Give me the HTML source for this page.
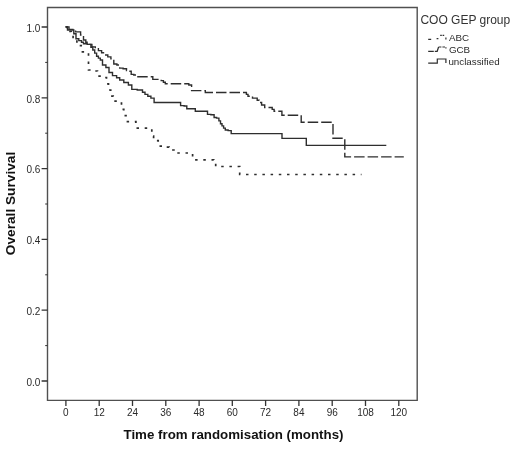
<!DOCTYPE html>
<html>
<head>
<meta charset="utf-8">
<title>Overall Survival by COO GEP group</title>
<style>
html,body{margin:0;padding:0;background:#fff;}
body{width:520px;height:451px;overflow:hidden;}
svg{display:block;filter:blur(0.45px);}
text{font-family:"Liberation Sans",Arial,sans-serif;fill:#2a2a2a;}
.tk{font-size:10px;fill:#3c3c3c;}
.ttl{font-weight:bold;fill:#111;}
.lg{font-size:9.8px;fill:#2a2a2a;}
.lgt{font-size:12px;fill:#333;}
.ln{fill:none;stroke:#2e2e2e;stroke-width:1.4;}
</style>
</head>
<body>
<svg width="520" height="451" viewBox="0 0 520 451">
<rect x="-5" y="-5" width="530" height="461" fill="#fff"/>
<!-- frame -->
<path d="M47.5 7.5 H417.2 V400.4 H47.5 Z" fill="none" stroke="#505050" stroke-width="1.4"/>
<!-- ticks -->
<g stroke="#333" stroke-width="1.3" fill="none">
<path d="M41.6 27.0H47.5M41.6 97.8H47.5M41.6 168.6H47.5M41.6 239.4H47.5M41.6 310.2H47.5M41.6 381.0H47.5"/>
<path d="M45.2 62.4H47.5M45.2 133.2H47.5M45.2 204.0H47.5M45.2 274.8H47.5M45.2 345.6H47.5" stroke-width="1"/>
<path d="M65.9 400V406M99.2 400V406M132.5 400V406M165.8 400V406M199.1 400V406M232.3 400V406M265.6 400V406M298.9 400V406M332.2 400V406M365.5 400V406M398.8 400V406"/>
</g>
<g class="tk" text-anchor="end">
<text x="40.3" y="31.8">1.0</text>
<text x="40.3" y="102.6">0.8</text>
<text x="40.3" y="173.4">0.6</text>
<text x="40.3" y="244.2">0.4</text>
<text x="40.3" y="315.0">0.2</text>
<text x="40.3" y="385.8">0.0</text>
</g>
<g class="tk" text-anchor="middle">
<text x="65.9" y="416.4">0</text>
<text x="99.2" y="416.4">12</text>
<text x="132.5" y="416.4">24</text>
<text x="165.8" y="416.4">36</text>
<text x="199.1" y="416.4">48</text>
<text x="232.3" y="416.4">60</text>
<text x="265.6" y="416.4">72</text>
<text x="298.9" y="416.4">84</text>
<text x="332.2" y="416.4">96</text>
<text x="365.5" y="416.4">108</text>
<text x="398.8" y="416.4">120</text>
</g>
<text class="ttl" x="233.5" y="438.8" text-anchor="middle" font-size="13.3">Time from randomisation (months)</text>
<text class="ttl" transform="translate(14.9 203.5) rotate(-90)" text-anchor="middle" font-size="13.7">Overall Survival</text>
<!-- curves -->
<path id="unc" class="ln" d="M65.6 26.9 H67.5 V30.0 H73.8 V33.8 H76.0 V38.8 H78.8 V40.6 H81.5 V42.2 H83.5 V43.8 H87.2 V44.4 H90.9 V47.2 H92.8 V50.0 H94.7 V53.1 H96.6 V56.2 H98.4 V58.1 H100.3 V60.0 H102.5 V65.0 H105.9 V67.5 H109.0 V72.5 H112.5 V75.6 H116.6 V77.8 H119.7 V80.0 H123.8 V82.5 H128.4 V85.0 H131.8 V89.4 H137.2 V90.0 H142.5 V92.2 H145.0 V94.4 H147.8 V96.2 H150.9 V98.1 H154.1 V102.5 H180.6 V105.6 H184.1 V106.0 H186.8 V108.8 H195.3 V111.3 H207.5 V114.4 H210.9 V114.8 H214.1 V117.5 H216.6 V118.1 H218.9 V120.9 H220.5 V123.8 H222.0 V125.9 H223.6 V128.1 H225.3 V130.0 H228.1 V130.6 H231.2 V133.6 H282.0 V138.4 H306.3 V145.4 H386.3"/>
<path id="gcb" class="ln" stroke-dasharray="10.5 3" d="M65.6 26.9 H69.0 V29.4 H75.6 V31.9 H80.6 V35.0 H83.5 V40.0 H85.8 V42.2 H88.6 V44.4 H91.9 V46.9 H95.3 V48.8 H98.4 V50.6 H101.6 V52.8 H104.7 V55.0 H107.8 V56.9 H110.9 V58.8 H113.8 V64.0 H116.9 V65.0 H119.7 V68.1 H123.1 V68.8 H126.5 V70.6 H129.1 V71.2 H131.2 V74.4 H133.8 V75.0 H136.6 V76.8 H152.8 V79.4 H161.2 V80.6 H163.4 V82.2 H165.3 V83.8 H188.8 V85.0 H191.6 V90.6 H205.3 V92.5 H246.4 V94.4 H248.0 V96.2 H252.5 V98.1 H257.2 V100.3 H259.1 V102.5 H261.6 V105.0 H264.7 V107.5 H272.2 V109.4 H274.1 V111.2 H281.9 V115.3 H301.2 V122.3 H333.0 V138.3 H344.8 V156.9 H403.8"/>
<path id="abc" class="ln" style="stroke-width:1.7" stroke-dasharray="2.5 5.7" d="M65.6 26.9 H66.8 V29.2 H69.0 V31.5 H71.3 V33.8 H73.1 V37.5 H74.8 V40.2 H76.9 V42.9 H79.0 V45.6 H81.2 V51.9 H85.5 V53.1 H88.5 V70.0 H92.4 V71.0 H97.5 V76.2 H102.2 V77.5 H106.5 V83.8 H108.5 V90.0 H110.7 V96.2 H113.2 V101.2 H117.5 V103.1 H121.5 V109.4 H123.8 V115.6 H126.0 V121.7 H135.9 V128.2 H151.8 V136.2 H153.6 V138.4 H155.8 V140.6 H158.2 V146.2 H162.8 V147.2 H169.1 V150.0 H173.9 V153.0 H192.6 V159.8 H213.7 V163.2 H215.7 V166.5 H239.7 V174.5 H361.5"/>
<!-- legend -->
<text class="lgt" x="420.4" y="23.8">COO GEP group</text>
<g class="ln" style="stroke-width:1.2">
<path d="M428.2 39.4 H431.2 M436.6 38.6 H438.4 M440.2 35.4 H441.8 M442.6 35.4 H444.2 M445.9 37.6 V39.6"/>
<path d="M428.2 51.3 H433.8 M434.8 51.3 H437.2 L438.5 47.2 M438.5 47 H441.4 M442.4 47 H445 M445.9 47.2 V48.6"/>
<path d="M428.2 63.2 H437.3 V59 H445.9 V62.9"/>
</g>
<text class="lg" x="448.9" y="41" font-size="9.3">ABC</text>
<text class="lg" x="448.9" y="53.3" font-size="9.3">GCB</text>
<text class="lg" x="448.4" y="65.4" font-size="10">unclassified</text>
</svg>
</body>
</html>
